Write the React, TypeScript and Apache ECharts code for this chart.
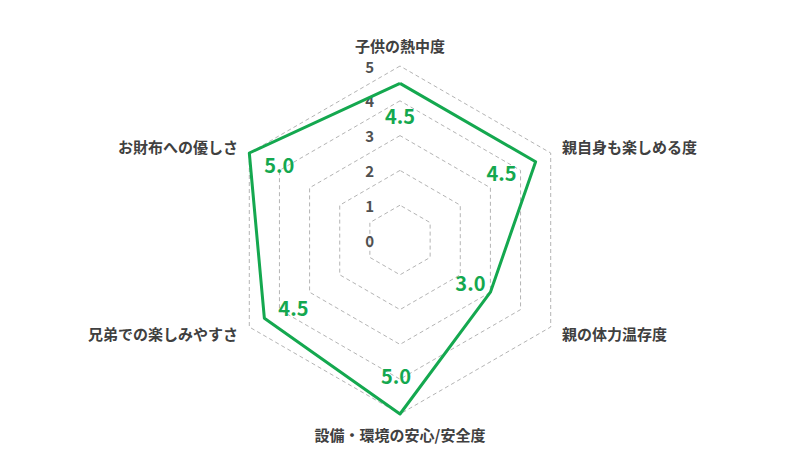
import React, { useEffect, useRef } from 'react';
import * as echarts from 'echarts';

// indicators, read clockwise starting at the top
const categories = [
  '子供の熱中度',
  '親自身も楽しめる度',
  '親の体力温存度',
  '設備・環境の安心/安全度',
  '兄弟での楽しみやすさ',
  'お財布への優しさ',
];
const scores = [4.5, 4.5, 3.0, 5.0, 4.5, 5.0];
const scaleMin = 0;
const scaleMax = 5;

// value label offsets (towards the centre), same clockwise order
const labelOffsets: [number, number][] = [
  [0, 32],
  [-34, 11],
  [-20, -10],
  [-4, -39],
  [29, -11],
  [30, 11],
];

const green = '#14a84f';
const textGrey = '#404040';
const font = "'Noto Sans CJK JP', 'Noto Sans', sans-serif";

const App: React.FC = () => {
  const chartRef = useRef<HTMLDivElement>(null);

  useEffect(() => {
    if (!chartRef.current) return;
    const chart = echarts.init(chartRef.current, undefined, { renderer: 'svg' });

    // ECharts lays indicators out counter-clockwise, so reorder
    const order = [0, 5, 4, 3, 2, 1];
    const indicators = order.map((i, j) => ({
      name: categories[i],
      min: scaleMin,
      max: scaleMax,
      ...(j === 0 ? { axisLabel: { show: true } } : {}),
    }));
    const values = order.map((i) => scores[i]);

    const labelItems = order.map((i, j) => ({
      value: values,
      label: {
        show: true,
        position: 'inside',
        offset: labelOffsets[i],
        color: green,
        fontSize: 20,
        fontWeight: 'bold',
        fontFamily: font,
        formatter: (p: any) => (p.dimensionIndex === j ? Number(p.value).toFixed(1) : ''),
      },
    }));

    const option: echarts.EChartsOption = {
      animation: false,
      backgroundColor: '#fff',
      radar: {
        center: [400, 240],
        radius: 174,
        startAngle: 90,
        splitNumber: 5,
        shape: 'polygon',
        indicator: indicators as any,
        nameGap: 13,
        axisName: {
          color: textGrey,
          fontSize: 15,
          fontWeight: 'bold',
          fontFamily: font,
        },
        splitLine: {
          lineStyle: { color: '#b4b4b4', width: 1, type: [4, 3] },
        },
        splitArea: { show: false },
        axisLine: { show: false },
        axisTick: { show: false },
        axisLabel: {
          show: false,
          color: '#505050',
          fontSize: 15,
          fontWeight: 'bold',
          fontFamily: font,
          margin: 26,
        },
      },
      series: [
        {
          type: 'radar',
          symbol: 'none',
          lineStyle: { color: green, width: 3 },
          data: [{ value: values }],
        },
        {
          type: 'radar',
          symbol: 'circle',
          symbolSize: 1,
          itemStyle: { color: 'rgba(0,0,0,0)' },
          lineStyle: { opacity: 0 },
          silent: true,
          data: labelItems as any,
        },
      ],
    };

    chart.setOption(option);
    return () => {
      chart.dispose();
    };
  }, []);

  return (
    <div
      ref={chartRef}
      style={{ position: 'absolute', left: 0, top: 0, width: 800, height: 453 }}
    />
  );
};

export default App;
